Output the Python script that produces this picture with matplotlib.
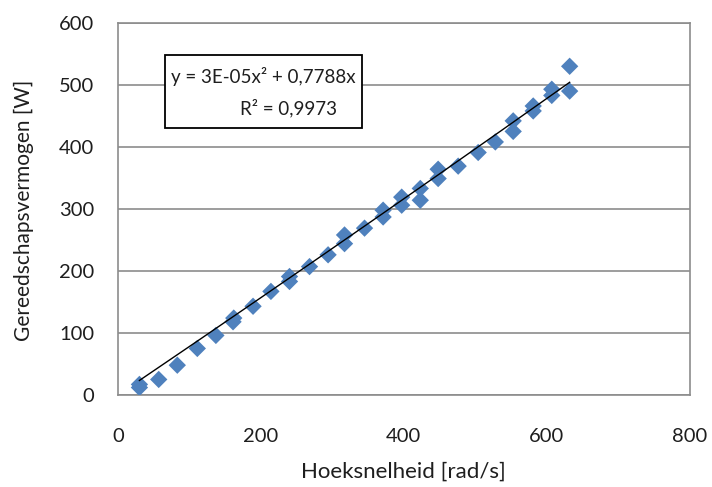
import numpy as np
import matplotlib
matplotlib.use("Agg")
import matplotlib.pyplot as plt
from matplotlib.patches import Rectangle

plt.rcParams['font.family'] = ['Lato', 'DejaVu Sans']

# Measured angular speed [rad/s] and tool power [W]
hoeksnelheid = [30, 30, 57, 83, 111, 137, 161, 162, 189, 214, 240, 240, 268, 294,
                317, 317, 345, 371, 371, 397, 397, 423, 423, 448, 448, 476, 504,
                528, 553, 553, 581, 581, 607, 607, 632, 632]
vermogen = [12, 17, 25, 48, 75, 96, 118, 124, 143, 167, 191, 183, 207, 226,
            258, 244, 269, 298, 287, 319, 306, 333, 314, 364, 349, 369, 391,
            408, 442, 425, 466, 458, 493, 483, 530, 490]

# Second-order trendline through the origin
coef_a = 3e-05
coef_b = 0.7788
r_squared = "0,9973"

x_ticks = [0, 200, 400, 600, 800]
y_ticks = [0, 100, 200, 300, 400, 500, 600]

txt_color = '#1e1e1e'
grid_color = '#8c8c8c'

fig = plt.figure(figsize=(7.12, 4.87), dpi=100)
ax = fig.add_axes([0.1657, 0.189, 0.803, 0.764])

ax.scatter(hoeksnelheid, vermogen, marker='D', s=78, color='#4F81BD',
           edgecolors='none', zorder=3)

xs = np.linspace(min(hoeksnelheid), max(hoeksnelheid), 200)
ax.plot(xs, coef_a * xs**2 + coef_b * xs, color='black', lw=1.0, zorder=4)

ax.set_xlim(0, 800)
ax.set_ylim(0, 600)
ax.set_xticks(x_ticks)
ax.set_yticks(y_ticks)
ax.tick_params(length=0, labelsize=14.5, colors=txt_color)
ax.tick_params(axis='x', pad=24)
ax.tick_params(axis='y', pad=17)
ax.grid(axis='y', color=grid_color, lw=1.2)
ax.set_axisbelow(True)
for side in ['left', 'bottom', 'right', 'top']:
    ax.spines[side].set_color(grid_color)
    ax.spines[side].set_linewidth(1.2)

ax.set_xlabel('Hoeksnelheid [rad/s]', fontsize=16, color=txt_color)
ax.set_ylabel('Gereedschapsvermogen [W]', fontsize=15, color=txt_color)
ax.xaxis.set_label_coords(0.5, -0.205)
ax.xaxis.label.set_verticalalignment('center')
ax.yaxis.set_label_coords(-0.164, 0.495)
ax.yaxis.label.set_verticalalignment('center')

# Trendline equation box
ax.add_patch(Rectangle((0.082, 0.718), 0.345, 0.196, transform=ax.transAxes,
                       facecolor='white', edgecolor='black', lw=1.3, zorder=5))
ax.text(0.255, 0.855, "y = 3E-05x² + 0,7788x", transform=ax.transAxes,
        fontsize=13.5, ha='center', va='center', color=txt_color, zorder=6)
ax.text(0.299, 0.772, "R² = " + r_squared, transform=ax.transAxes,
        fontsize=13.5, ha='center', va='center', color=txt_color, zorder=6)

fig.savefig('out.png', dpi=100)
